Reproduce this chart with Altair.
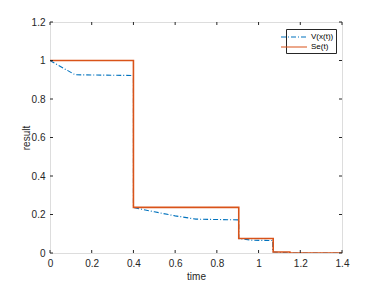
import altair as alt
import pandas as pd

# V(x(t)) series
v_t = [0.0, 0.12, 0.4, 0.4, 0.5, 0.6, 0.7, 0.8, 0.905, 0.905, 0.97, 1.068, 1.068, 1.15, 1.4]
v_v = [1.0, 0.926, 0.922, 0.236, 0.214, 0.193, 0.176, 0.174, 0.172, 0.075, 0.066, 0.065, 0.005, 0.0, 0.0]
# Se(t) step series
se_t = [0.0, 0.4, 0.905, 1.07, 1.15, 1.4]
se_v = [1.0, 0.237, 0.075, 0.005, 0.0, 0.0]

series_names = ["V(x(t))", "Se(t)"]
series_colors = ["#0072BD", "#D95319"]

x_ticks = [0, 0.2, 0.4, 0.6, 0.8, 1.0, 1.2, 1.4]
y_ticks = [0, 0.2, 0.4, 0.6, 0.8, 1.0, 1.2]

W, H = 292, 231
FONT = "Liberation Sans"

df_v = pd.DataFrame({"t": v_t, "v": v_v, "series": series_names[0]})
df_se = pd.DataFrame({"t": se_t, "v": se_v, "series": series_names[1]})
df_xt = pd.DataFrame({"t": x_ticks})
df_yt = pd.DataFrame({"v": y_ticks})

xscale = alt.Scale(domain=[0, 1.4], nice=False, zero=False)
yscale = alt.Scale(domain=[0, 1.2], nice=False, zero=False)

color = alt.Color(
    "series:N",
    scale=alt.Scale(domain=series_names, range=series_colors),
    legend=alt.Legend(
        title=None, orient="none", legendX=236, legendY=7,
        strokeColor="#262626", fillColor="white", padding=2,
        labelFont=FONT, labelFontSize=8, labelColor="black",
        symbolType="M-2.6,0H2.6", symbolSize=100, symbolStrokeWidth=1.2,
        rowPadding=0, labelOffset=11,
    ),
)
dash = alt.StrokeDash(
    "series:N",
    scale=alt.Scale(domain=series_names, range=[[5, 2, 1, 2], [1, 0]]),
    legend=None,
)

axis_common = dict(grid=False, domain=False, ticks=False, labelPadding=5, labelOverlap=False,
                   labelFlush=False,
                   labelFont=FONT, titleFont=FONT, labelFontSize=10, titleFontSize=10,
                   titleFontWeight="normal", labelColor="#262626", titleColor="#262626")
xaxis = alt.Axis(values=x_ticks, format="~g", title="time", titlePadding=3, **axis_common)
yaxis = alt.Axis(values=y_ticks, format="~g", title="result", titlePadding=0, **axis_common)

line_v = alt.Chart(df_v).mark_line(strokeWidth=1.1, clip=True).encode(
    x=alt.X("t:Q", scale=xscale, axis=xaxis),
    y=alt.Y("v:Q", scale=yscale, axis=yaxis),
    color=color, strokeDash=dash,
)
line_se = alt.Chart(df_se).mark_line(strokeWidth=1.6, interpolate="step-after", clip=True).encode(
    x=alt.X("t:Q", scale=xscale, axis=xaxis),
    y=alt.Y("v:Q", scale=yscale, axis=yaxis),
    color=color, strokeDash=dash,
)

tick_style = dict(color="#262626", strokeWidth=1)
xt_bottom = alt.Chart(df_xt).mark_rule(**tick_style).encode(
    x=alt.X("t:Q", scale=xscale, axis=xaxis), y=alt.value(H), y2=alt.value(H - 3))
xt_top = alt.Chart(df_xt).mark_rule(**tick_style).encode(
    x=alt.X("t:Q", scale=xscale, axis=xaxis), y=alt.value(0), y2=alt.value(3))
yt_left = alt.Chart(df_yt).mark_rule(**tick_style).encode(
    y=alt.Y("v:Q", scale=yscale, axis=yaxis), x=alt.value(0), x2=alt.value(3))
yt_right = alt.Chart(df_yt).mark_rule(**tick_style).encode(
    y=alt.Y("v:Q", scale=yscale, axis=yaxis), x=alt.value(W), x2=alt.value(W - 3))

chart = alt.layer(line_v, line_se, xt_bottom, xt_top, yt_left, yt_right).properties(
    width=W, height=H,
    autosize=alt.AutoSizeParams(type="none"),
    padding={"left": 42, "top": 14, "right": 20, "bottom": 30},
).configure_view(stroke="#262626", strokeWidth=1).configure_axis(
    labelOverlap=False, labelFlush=False
).configure(background="white")

chart.save("out.html", embed_options={"renderer": "svg", "actions": False})
